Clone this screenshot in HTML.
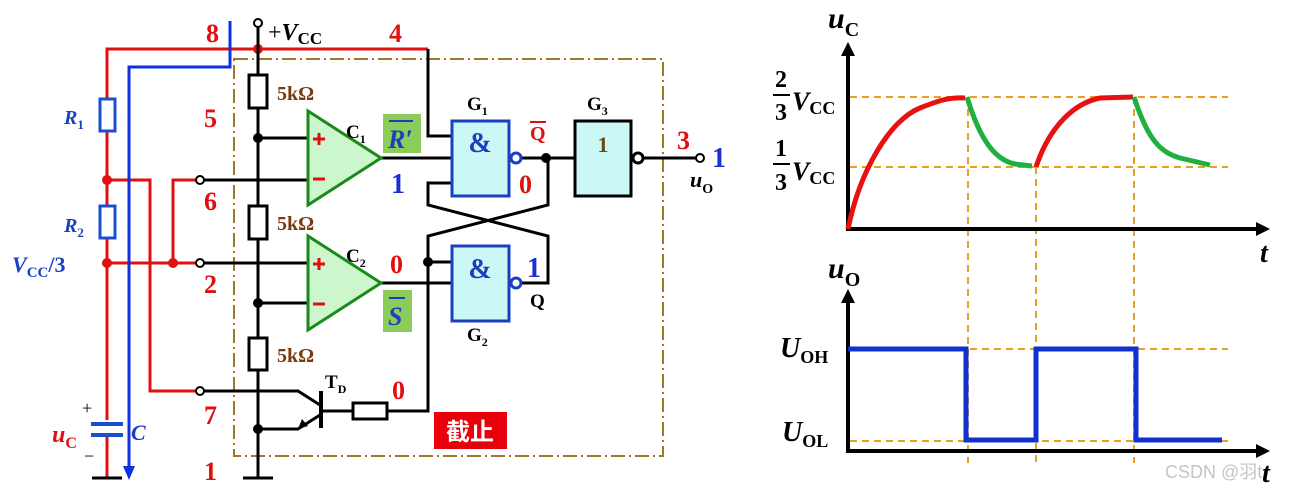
<!DOCTYPE html>
<html><head><meta charset="utf-8"><style>
html,body{margin:0;padding:0;background:#fff;width:1292px;height:494px;overflow:hidden}
svg{display:block}
text{font-family:"Liberation Serif","Noto Serif CJK SC",serif;font-weight:bold}
</style></head><body>
<svg width="1292" height="494" viewBox="0 0 1292 494" xmlns="http://www.w3.org/2000/svg">
<defs>
<marker id="ab" markerWidth="14" markerHeight="12" refX="2" refY="6" orient="auto" markerUnits="userSpaceOnUse"><path d="M0,0 L14,6 L0,12z" fill="#1030e0"/></marker>
</defs>
<rect x="234" y="59" width="429" height="397" fill="none" stroke="#a0782a" stroke-width="2" stroke-dasharray="14,4,2,4"/>
<g stroke="#e01010" stroke-width="3" fill="none">
<polyline points="107,478 107,49 428,49"/>
<polyline points="107,180 150,180 150,391 196,391"/>
<polyline points="107,263 196,263"/>
<polyline points="196,180 173,180 173,263"/>
</g>
<g fill="#e01010"><circle cx="258" cy="49" r="5"/><circle cx="107" cy="180" r="5"/><circle cx="107" cy="263" r="5"/><circle cx="173" cy="263" r="5"/></g>
<rect x="100" y="99" width="15" height="32" fill="#fff" stroke="#1a50d0" stroke-width="3"/>
<rect x="100" y="206" width="15" height="32" fill="#fff" stroke="#1a50d0" stroke-width="3"/>
<rect x="98" y="420" width="22" height="14" fill="#fff"/>
<line x1="91" y1="424" x2="123" y2="424" stroke="#1a50d0" stroke-width="4"/>
<line x1="91" y1="435" x2="123" y2="435" stroke="#1a50d0" stroke-width="4"/>
<line x1="92" y1="478" x2="122" y2="478" stroke="#000" stroke-width="3"/>
<polyline points="230,21 230,67 129,67 129,468" fill="none" stroke="#1030e0" stroke-width="3" marker-end="url(#ab)"/>
<g stroke="#000" stroke-width="3" fill="none">
<line x1="258" y1="27" x2="258" y2="478"/>
<line x1="243" y1="478" x2="273" y2="478"/>
<polyline points="428,49 428,136 451,136"/>
<line x1="258" y1="138" x2="308" y2="138"/>
<line x1="204" y1="180" x2="308" y2="180"/>
<line x1="204" y1="263" x2="308" y2="263"/>
<line x1="258" y1="303" x2="308" y2="303"/>
<line x1="381" y1="158" x2="451" y2="158"/>
<line x1="381" y1="283" x2="451" y2="283"/>
<polyline points="451,183 428,183 428,205 548,236 548,283 522,283"/>
<polyline points="546,158 548,158 548,205 428,236 428,411 387,411"/>
<line x1="428" y1="262" x2="451" y2="262"/>
<line x1="521" y1="158" x2="575" y2="158"/>
<line x1="644" y1="158" x2="696" y2="158"/>
<polyline points="204,391 298,391 320,405"/>
<line x1="321" y1="391" x2="321" y2="428" stroke-width="4"/>
<polyline points="320,415 298,429 258,429"/>
<line x1="321" y1="411" x2="353" y2="411"/>
</g>
<path d="M298,429 l4,-10 l6,7z" fill="#000"/>
<rect x="353" y="403" width="34" height="16" fill="#fff" stroke="#000" stroke-width="3"/>
<g fill="#fff" stroke="#000" stroke-width="3">
<rect x="249" y="75" width="18" height="33"/><rect x="249" y="206" width="18" height="33"/><rect x="249" y="338" width="18" height="32"/>
</g>
<g fill="#000"><circle cx="258" cy="138" r="5"/><circle cx="258" cy="303" r="5"/><circle cx="258" cy="429" r="5"/><circle cx="546" cy="158" r="5"/><circle cx="428" cy="262" r="5"/></g>
<g fill="#fff" stroke="#000" stroke-width="2"><circle cx="258" cy="23" r="4"/><circle cx="200" cy="180" r="4"/><circle cx="200" cy="263" r="4"/><circle cx="200" cy="391" r="4"/><circle cx="700" cy="158" r="4"/></g>
<polygon points="308,111 308,205 381,158" fill="#ccf7cc" stroke="#1a8a1a" stroke-width="3"/>
<polygon points="308,236 308,330 381,283" fill="#ccf7cc" stroke="#1a8a1a" stroke-width="3"/>
<g stroke="#e01010" stroke-width="3"><line x1="313" y1="139" x2="325" y2="139"/><line x1="319" y1="133" x2="319" y2="145"/><line x1="313" y1="179" x2="325" y2="179"/>
<line x1="313" y1="264" x2="325" y2="264"/><line x1="319" y1="258" x2="319" y2="270"/><line x1="313" y1="304" x2="325" y2="304"/></g>
<rect x="452" y="121" width="57" height="75" fill="#ccf7f7" stroke="#1a40c0" stroke-width="3"/>
<rect x="452" y="246" width="57" height="75" fill="#ccf7f7" stroke="#1a40c0" stroke-width="3"/>
<circle cx="516" cy="158" r="5" fill="#fff" stroke="#1a40c0" stroke-width="3"/>
<circle cx="516" cy="283" r="5" fill="#fff" stroke="#1a40c0" stroke-width="3"/>
<rect x="575" y="121" width="56" height="75" fill="#ccf7f7" stroke="#000" stroke-width="3"/>
<circle cx="638" cy="158" r="5" fill="#fff" stroke="#000" stroke-width="3"/>
<g fill="#1a40c0" font-size="28" text-anchor="middle"><text x="480" y="152">&amp;</text><text x="480" y="278">&amp;</text></g>
<text x="603" y="152" font-size="22" fill="#6a4a10" text-anchor="middle">1</text>
<rect x="383" y="114" width="38" height="39" fill="#8ccc5a"/>
<rect x="383" y="290" width="29" height="42" fill="#8ccc5a"/>
<line x1="389" y1="121" x2="413" y2="121" stroke="#1a40c0" stroke-width="2"/>
<line x1="389" y1="298" x2="405" y2="298" stroke="#1a40c0" stroke-width="2"/>
<text x="388" y="148" font-size="26" fill="#1a40c0" font-style="italic">R′</text>
<text x="388" y="325" font-size="26" fill="#1a40c0" font-style="italic">S</text>
<rect x="434" y="412" width="73" height="37" fill="#e8000a"/>
<text x="470" y="440" font-size="24" fill="#fff" text-anchor="middle" style="font-family:'Noto Sans CJK SC',sans-serif">截止</text>
<g font-size="26" fill="#e01010">
<text x="206" y="42">8</text><text x="389" y="42">4</text><text x="204" y="127">5</text><text x="204" y="210">6</text><text x="204" y="293">2</text><text x="204" y="424">7</text><text x="204" y="480">1</text>
<text x="390" y="273">0</text><text x="392" y="399">0</text><text x="519" y="193">0</text><text x="677" y="149">3</text>
<text x="530" y="140" font-size="20">Q</text>
</g>
<line x1="530" y1="122" x2="546" y2="122" stroke="#e01010" stroke-width="2"/>
<g font-size="28" fill="#1a30d0"><text x="391" y="193">1</text><text x="527" y="277">1</text><text x="712" y="167">1</text></g>
<g font-size="20" fill="#7a3a10"><text x="277" y="100">5kΩ</text><text x="277" y="230">5kΩ</text><text x="277" y="362">5kΩ</text></g>
<g fill="#000"><text x="268" y="40" font-size="24" style="font-weight:normal">+<tspan font-style="italic" style="font-weight:bold">V</tspan><tspan font-size="17" dy="4" style="font-weight:bold">CC</tspan></text>
<text x="346" y="138" font-size="19">C<tspan font-size="12" dy="5">1</tspan></text>
<text x="346" y="262" font-size="19">C<tspan font-size="12" dy="5">2</tspan></text>
<text x="467" y="110" font-size="19">G<tspan font-size="12" dy="5">1</tspan></text>
<text x="467" y="341" font-size="19">G<tspan font-size="12" dy="5">2</tspan></text>
<text x="587" y="110" font-size="19">G<tspan font-size="12" dy="5">3</tspan></text>
<text x="325" y="388" font-size="19">T<tspan font-size="12" dy="5">D</tspan></text>
<text x="530" y="307" font-size="19">Q</text>
<text x="690" y="187" font-size="22" font-style="italic">u<tspan font-size="14" font-style="normal" dy="6">O</tspan></text>
<text x="82" y="414" font-size="18" style="font-weight:normal">+</text><text x="84" y="462" font-size="18" style="font-weight:normal">−</text>
</g>
<g fill="#1a40c0" font-style="italic"><text x="64" y="124" font-size="20">R<tspan font-size="13" font-style="normal" dy="5">1</tspan></text>
<text x="64" y="232" font-size="20">R<tspan font-size="13" font-style="normal" dy="5">2</tspan></text>
<text x="12" y="272" font-size="22">V<tspan font-size="15" font-style="normal" dy="5">CC</tspan><tspan font-style="normal" dy="-5">/3</tspan></text>
<text x="131" y="440" font-size="22">C</text></g>
<text x="52" y="442" font-size="24" fill="#e01010" font-style="italic">u<tspan font-size="16" font-style="normal" dy="6">C</tspan></text>

<g stroke="#e8a020" stroke-width="2" stroke-dasharray="7,5" fill="none">
<line x1="850" y1="97" x2="1228" y2="97"/><line x1="850" y1="167" x2="1228" y2="167"/>
<line x1="968" y1="97" x2="968" y2="463"/><line x1="1036" y1="167" x2="1036" y2="463"/><line x1="1134" y1="97" x2="1134" y2="463"/>
<line x1="850" y1="349" x2="1228" y2="349"/><line x1="850" y1="441" x2="1228" y2="441"/>
</g>
<g stroke="#000" stroke-width="4" fill="none">
<polyline points="848,50 848,229 1260,229"/><polyline points="848,297 848,451 1260,451"/></g>
<g fill="#000"><path d="M848,42 l-7,14 h14z"/><path d="M1270,229 l-14,-7 v14z"/><path d="M848,289 l-7,14 h14z"/><path d="M1270,451 l-14,-7 v14z"/></g>
<path d="M848,229 C860,170 890,120 920,108 C940,100 950,97 965,98" fill="none" stroke="#e81010" stroke-width="5"/>
<path d="M1036,167 C1050,125 1075,103 1100,98 L1133,97" fill="none" stroke="#e81010" stroke-width="5"/>
<path d="M967,97 C980,140 995,160 1015,164 L1032,166" fill="none" stroke="#20b040" stroke-width="5"/>
<path d="M1134,97 C1148,140 1160,152 1180,158 L1210,165" fill="none" stroke="#20b040" stroke-width="5"/>
<polyline points="848,349 966,349 966,440 1036,440 1036,349 1136,349 1136,440 1222,440" fill="none" stroke="#1030d0" stroke-width="5"/>
<g fill="#000">
<text x="828" y="28" font-size="30" font-style="italic">u<tspan font-size="20" font-style="normal" dy="8">C</tspan></text>
<text x="828" y="278" font-size="30" font-style="italic">u<tspan font-size="20" font-style="normal" dy="8">O</tspan></text>
<text x="1260" y="262" font-size="28" font-style="italic">t</text>
<text x="1262" y="482" font-size="28" font-style="italic">t</text>
<text x="775" y="87" font-size="24">2</text><line x1="773" y1="95" x2="790" y2="95" stroke="#000" stroke-width="2"/><text x="775" y="120" font-size="24">3</text>
<text x="792" y="110" font-size="26" font-style="italic">V<tspan font-size="18" font-style="normal" dy="4">CC</tspan></text>
<text x="775" y="156" font-size="24">1</text><line x1="773" y1="164" x2="790" y2="164" stroke="#000" stroke-width="2"/><text x="775" y="190" font-size="24">3</text>
<text x="792" y="180" font-size="26" font-style="italic">V<tspan font-size="18" font-style="normal" dy="4">CC</tspan></text>
<text x="780" y="357" font-size="28" font-style="italic">U<tspan font-size="18" font-style="normal" dy="6">OH</tspan></text>
<text x="782" y="441" font-size="28" font-style="italic">U<tspan font-size="18" font-style="normal" dy="6">OL</tspan></text>
</g>
<text x="1165" y="478" font-size="18" fill="#c4c4c4" style="font-weight:normal;font-family:'Liberation Sans','Noto Sans CJK SC',sans-serif">CSDN @羽t</text>
</svg>
</body></html>
